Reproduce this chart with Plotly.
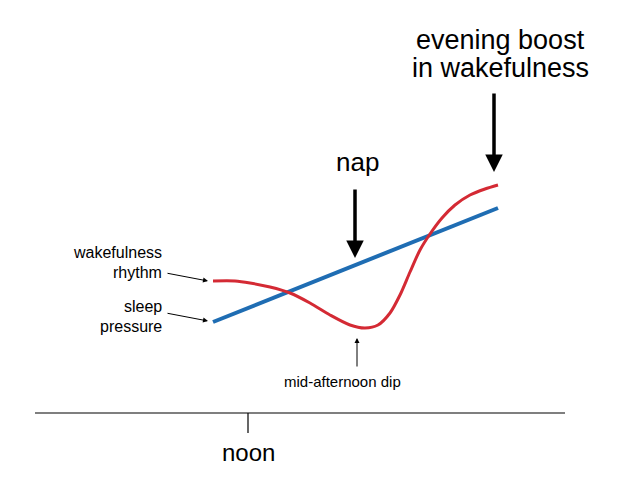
import plotly.graph_objects as go

red_x = [213, 235, 250, 270, 290, 310, 330, 350, 365, 378, 390, 400, 410, 420, 430, 442, 455, 470, 485, 498]
red_y = [281, 281, 283, 287, 293, 303, 315, 325, 328, 325, 313, 295, 272, 250, 234, 218, 205, 195, 189, 185]
blue_x = [213, 498]
blue_y = [322, 208]
axis_x = [35, 565]
axis_y = [413, 413]
tick_x = [248, 248]
tick_y = [413, 433]

fig = go.Figure()
fig.add_trace(go.Scatter(x=blue_x, y=blue_y, mode="lines", line=dict(color="#1f6db3", width=4)))
fig.add_trace(go.Scatter(x=red_x, y=red_y, mode="lines", line=dict(color="#d42a34", width=3, shape="spline", smoothing=0.8)))
fig.add_trace(go.Scatter(x=axis_x, y=axis_y, mode="lines", line=dict(color="black", width=1.2)))
fig.add_trace(go.Scatter(x=tick_x, y=tick_y, mode="lines", line=dict(color="black", width=1.2)))

F = "Liberation Sans, Arial, sans-serif"
def txt(x, y, t, size, anchor="center"):
    fig.add_annotation(x=x, y=y, text=t, showarrow=False, xref="x", yref="y",
                       xanchor=anchor, yanchor="middle", font=dict(family=F, size=size, color="black"))
def arrow(x0, y0, x1, y1, w=1, head=2, size=1):
    fig.add_annotation(x=x1, y=y1, ax=x0, ay=y0, axref="x", ayref="y", xref="x", yref="y",
                       text="", showarrow=True, arrowhead=head, arrowwidth=w, arrowsize=size, arrowcolor="black")

txt(500, 40, "evening boost", 27)
txt(500, 68, "in wakefulness", 27)
arrow(494, 92, 494, 172, w=3.5, head=2, size=1)
txt(357, 162, "nap", 26)
arrow(355, 188, 355, 258, w=3.5, head=2, size=1)
txt(164, 252, "wakefulness", 16, "right")
txt(164, 272, "rhythm", 16, "right")
arrow(166, 273, 208, 281)
txt(164, 306, "sleep", 16, "right")
txt(164, 326, "pressure", 16, "right")
arrow(166, 313, 208, 321)
txt(342, 381, "mid-afternoon dip", 15)
arrow(357, 368, 357, 338)
txt(248, 452, "noon", 24)

fig.update_layout(width=635, height=498, margin=dict(l=0, r=0, t=0, b=0),
                  plot_bgcolor="white", paper_bgcolor="white", showlegend=False,
                  xaxis=dict(range=[8, 643], visible=False),
                  yaxis=dict(range=[506, 8], visible=False))
fig.write_html("out.html")
